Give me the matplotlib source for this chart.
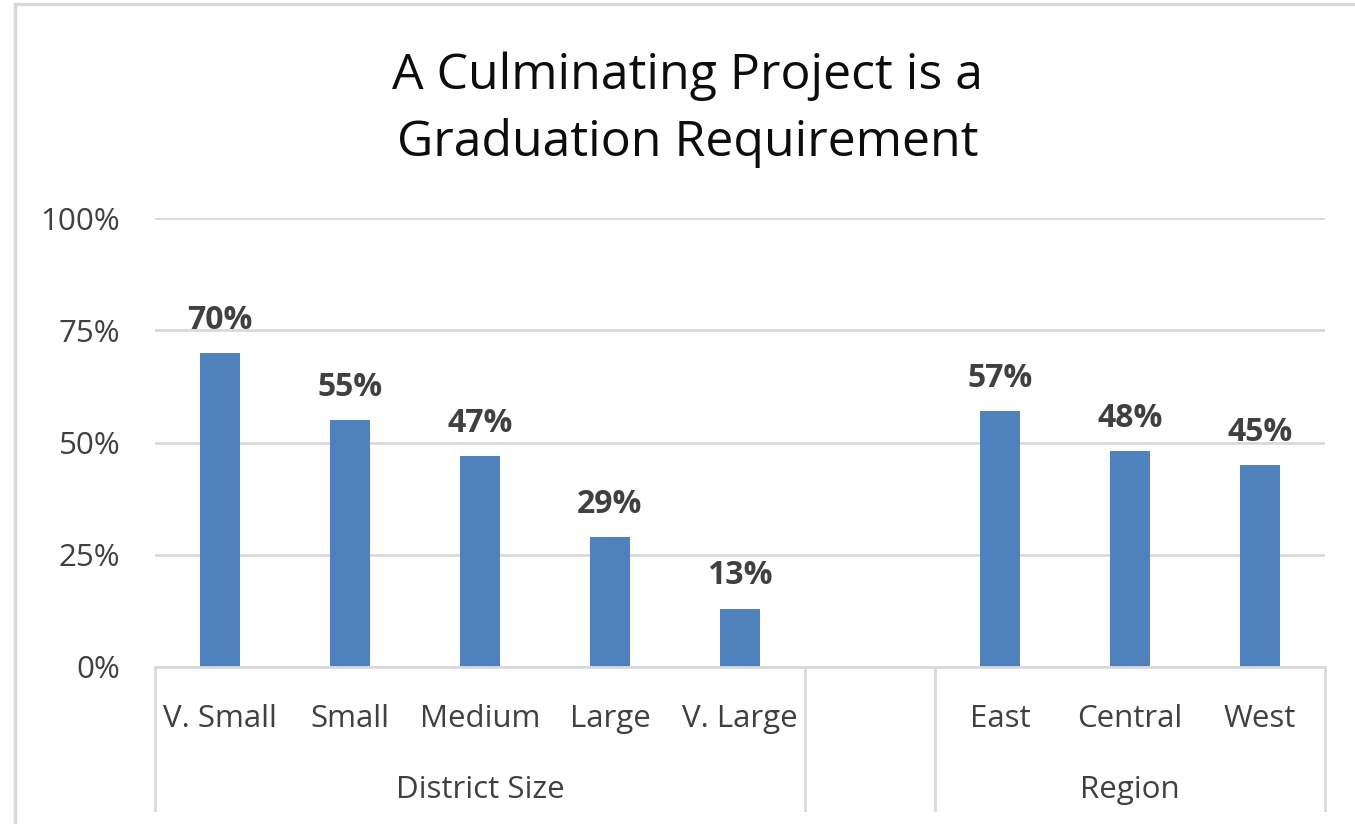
import matplotlib.pyplot as plt
import matplotlib.patches as patches
from matplotlib.transforms import blended_transform_factory

plt.rcParams['font.family'] = ['Open Sans', 'DejaVu Sans']

# Data
categories = ['V. Small', 'Small', 'Medium', 'Large', 'V. Large', '', 'East', 'Central', 'West']
values = [0.70, 0.55, 0.47, 0.29, 0.13, None, 0.57, 0.48, 0.45]
groups = ['District Size', 'Region']
group_spans = [(0, 4), (6, 8)]
y_ticks = [0, 0.25, 0.5, 0.75, 1.0]
y_labels = ['0%', '25%', '50%', '75%', '100%']

W, H = 1355, 824
fig = plt.figure(figsize=(W / 100, H / 100), dpi=100)

# light border around the chart
fig.patches.append(patches.Rectangle((15 / W, -0.1), 1.2, (H - 4) / H + 0.1,
                                     transform=fig.transFigure, fill=False,
                                     edgecolor='#D9D9D9', linewidth=2.5))

ax = fig.add_axes([155 / W, (H - 667) / H, 1170 / W, 449 / H])

xs = [i for i, v in enumerate(values) if v is not None]
vals = [v for v in values if v is not None]
ax.bar(xs, vals, width=0.31, color='#4F81BD', zorder=3)

for x, v in zip(xs, vals):
    ax.text(x, v + 0.036, f'{round(v * 100):.0f}%', ha='center', va='bottom',
            fontsize=23, fontweight='bold', color='#404040')

ax.set_xlim(-0.5, len(categories) - 0.5)
ax.set_ylim(0, 1.0)
ax.set_yticks(y_ticks)
ax.set_yticklabels(y_labels, fontsize=22.5, color='#404040')
ax.set_xticks([])
ax.grid(axis='y', color='#D9D9D9', linewidth=2, zorder=0)
ax.tick_params(axis='y', length=0, pad=25)
for s in ['top', 'right', 'left']:
    ax.spines[s].set_visible(False)
ax.spines['bottom'].set_color('#D9D9D9')
ax.spines['bottom'].set_linewidth(2)
ax.spines['bottom'].set_zorder(4)

trans = blended_transform_factory(ax.transData, ax.transAxes)
for x, lab in enumerate(categories):
    ax.text(x, -0.116, lab, transform=trans, ha='center', va='center',
            fontsize=22.5, color='#404040')

# multi-level category dividers
for xb in [-0.5, 4.5, 5.5, 8.5]:
    ax.plot([xb, xb], [0, -0.318], transform=trans, color='#D9D9D9',
            linewidth=2, clip_on=False)

for g, (a, b) in zip(groups, group_spans):
    ax.text((a + b) / 2, -0.274, g, transform=trans, ha='center', va='center',
            fontsize=22.5, color='#404040')

fig.text(688 / W, (H - 76) / H, 'A Culminating Project is a', ha='center',
         va='center', fontsize=36, color='#0D0D0D')
fig.text(688 / W, (H - 143) / H, 'Graduation Requirement', ha='center',
         va='center', fontsize=36, color='#0D0D0D')

fig.savefig('out.png', dpi=100)
